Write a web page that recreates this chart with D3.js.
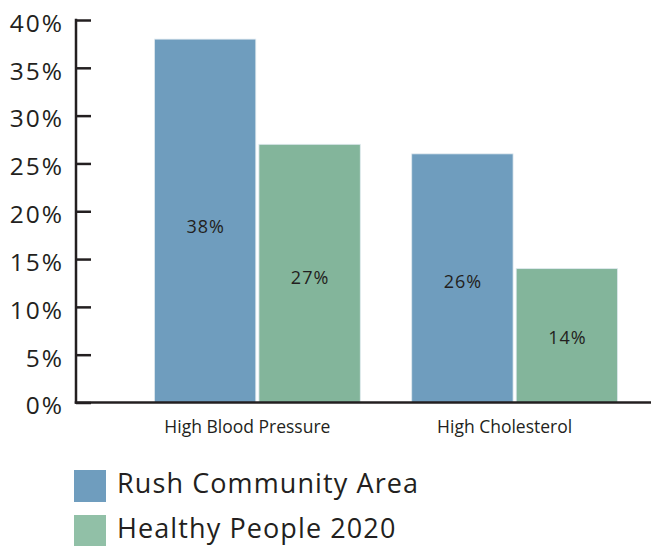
<!DOCTYPE html>
<html>
<head>
<meta charset="utf-8">
<script src="https://cdn.jsdelivr.net/npm/d3@7"></script>
<style>
  html, body { margin: 0; padding: 0; background: #fff; }
  svg { display: block; font-family: "Open Sans", "Noto Sans", sans-serif; }
</style>
</head>
<body>
<svg id="chart" width="651" height="546"></svg>
<script>
const categories = ["High Blood Pressure", "High Cholesterol"];
const seriesNames = ["Rush Community Area", "Healthy People 2020"];
const rushValues = [38, 26];
const healthyPeopleValues = [27, 14];
const yTicks = [0, 5, 10, 15, 20, 25, 30, 35, 40];

const barColors = ["#6f9dbe", "#83b59b"];
const legendColors = ["#6f9dbe", "#91c0a7"];

const svg = d3.select("#chart");
const W = 651, H = 546;
const axisX = 76, baseY = 402.5, topY = 20;

const y = d3.scaleLinear().domain([0, 40]).range([baseY, topY]);
const x0 = d3.scaleBand().domain(categories).range([103, 669]).paddingInner(0.2).paddingOuter(0.2);
const x1 = d3.scaleBand().domain(seriesNames).range([0, x0.bandwidth()]).paddingInner(0.03);

const rows = categories.map((c, i) => ({
  category: c,
  values: [
    { series: seriesNames[0], value: rushValues[i], color: barColors[0] },
    { series: seriesNames[1], value: healthyPeopleValues[i], color: barColors[1] }
  ]
}));

// Bars
const groups = svg.append("g").selectAll("g").data(rows).join("g")
  .attr("transform", d => `translate(${x0(d.category)},0)`);

groups.selectAll("rect").data(d => d.values).join("rect")
  .attr("x", d => x1(d.series))
  .attr("y", d => y(d.value))
  .attr("width", x1.bandwidth())
  .attr("height", d => y(0) - y(d.value))
  .attr("fill", d => d.color)
  .attr("stroke", "#dfe9ef")
  .attr("stroke-width", 0.8);

groups.selectAll("text").data(d => d.values).join("text")
  .attr("x", d => x1(d.series) + x1.bandwidth() / 2 + 0.5)
  .attr("y", d => y(d.value * 0.485))
  .attr("dy", "0.35em")
  .attr("text-anchor", "middle")
  .attr("font-size", 18)
  .attr("letter-spacing", 1)
  .attr("fill", "#231f20")
  .text(d => d.value + "%");

// Y axis
const yAxis = d3.axisRight(y).tickValues(yTicks).tickSize(15).tickFormat("");
const gy = svg.append("g").attr("transform", `translate(${axisX},0)`).call(yAxis);
gy.select(".domain").remove();
gy.selectAll(".tick line").attr("stroke", "#231f20").attr("stroke-width", 2.5);

svg.append("line")
  .attr("x1", axisX).attr("x2", axisX)
  .attr("y1", y(40) - 1.25).attr("y2", baseY + 1.25)
  .attr("stroke", "#231f20").attr("stroke-width", 2.5);

svg.append("g").selectAll("text").data(yTicks).join("text")
  .attr("x", 64)
  .attr("y", d => y(d) + 3)
  .attr("dy", "0.36em")
  .attr("text-anchor", "end")
  .attr("font-size", 24.5)
  .attr("letter-spacing", 2)
  .attr("fill", "#231f20")
  .text(d => d + "%");

// Baseline
svg.append("line")
  .attr("x1", axisX - 1.25).attr("x2", W)
  .attr("y1", baseY).attr("y2", baseY)
  .attr("stroke", "#231f20").attr("stroke-width", 2.5);

// Category labels
svg.append("g").selectAll("text").data(categories).join("text")
  .attr("x", d => x0(d) + x0.bandwidth() / 2 - 10)
  .attr("y", 433)
  .attr("text-anchor", "middle")
  .attr("font-size", 17.5)
  .attr("fill", "#231f20")
  .text(d => d);

// Legend
const legend = svg.append("g").selectAll("g").data(seriesNames).join("g")
  .attr("transform", (d, i) => `translate(74,${470 + i * 45})`);
legend.append("rect")
  .attr("width", 32).attr("height", 32)
  .attr("fill", (d, i) => legendColors[i]);
legend.append("text")
  .attr("x", 43).attr("y", 23)
  .attr("font-size", 27)
  .attr("letter-spacing", 1.1)
  .attr("fill", "#231f20")
  .text(d => d);
</script>
</body>
</html>
